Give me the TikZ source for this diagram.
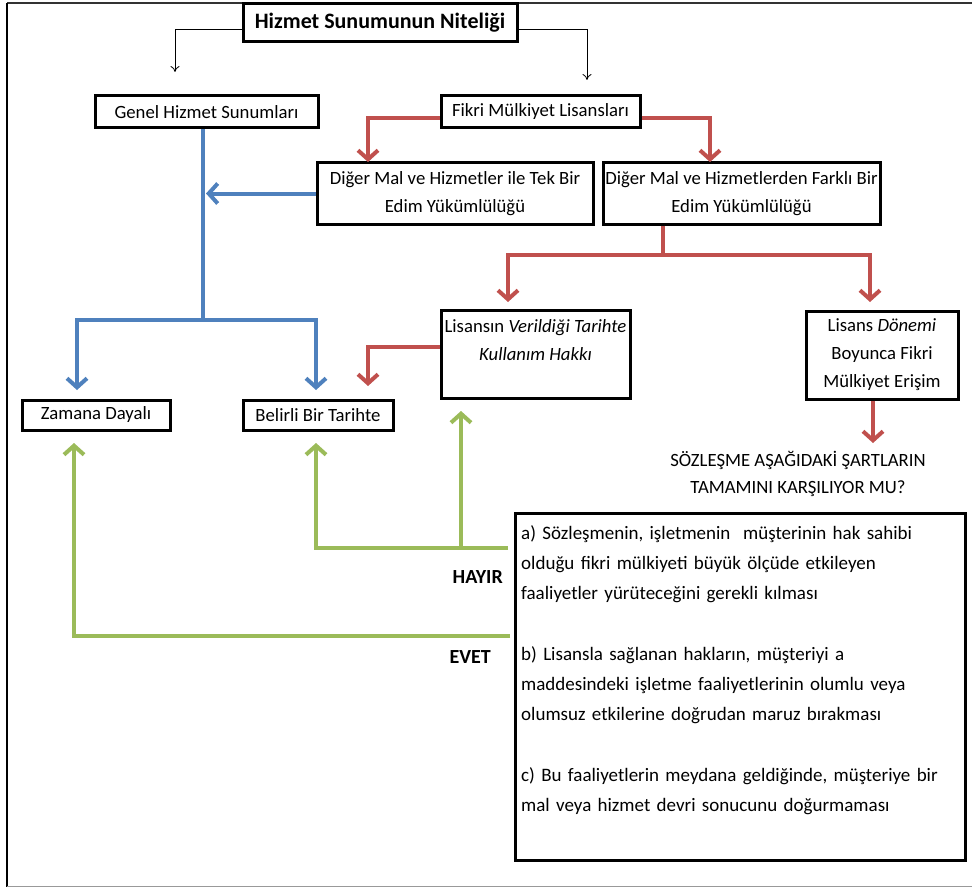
\documentclass[tikz,border=0pt]{standalone}
\usepackage{fontspec}
\setmainfont{Carlito}
\frenchspacing
\usetikzlibrary{arrows.meta}
\definecolor{oblue}{HTML}{4F81BD}
\definecolor{ored}{HTML}{C0504D}
\definecolor{ogreen}{HTML}{9BBB59}
\begin{document}
\begin{tikzpicture}[x=1pt,y=-1pt,
  box/.style={draw=black,line width=3pt,rectangle,inner sep=0pt,align=center,
     font=\fontsize{18.7}{28}\selectfont},
  thinarrow/.style={draw=black,line width=0.8pt,-{To[length=6pt,width=9pt]}},
  bar/.style={line width=4pt},
  barhead/.style={-{Straight Barb[length=9pt,width=20pt]}},
  bluel/.style={bar,draw=oblue},
  bluea/.style={bluel,barhead},
  redl/.style={bar,draw=ored},
  reda/.style={redl,barhead},
  greenl/.style={bar,draw=ogreen},
  greena/.style={greenl,barhead},
  lbl/.style={font=\fontsize{20}{24}\selectfont\bfseries,inner sep=0pt}
]
\useasboundingbox (0,0) rectangle (972,888);
% frame
\draw[line width=1.5pt,black!80] (7,3) -- (972,3);
\draw[line width=1.8pt,black] (7,3) -- (7,887);
\draw[line width=1.8pt,black!40] (7,886.5) -- (972,886.5);

% nodes
\node[box,minimum width=274pt,minimum height=38pt,font=\fontsize{22}{26}\selectfont\bfseries] (title) at (380,23) {Hizmet Sunumunun Niteliği};
\node[box,minimum width=223pt,minimum height=32pt] (genel) at (206.5,112) {Genel Hizmet Sunumları};
\node[box,minimum width=199pt,minimum height=32pt] (fikri) at (540.5,112) {Fikri Mülkiyet Lisansları};
\node[box,minimum width=276pt,minimum height=61pt] (tek) at (455,193.5) {Diğer Mal ve Hizmetler ile Tek Bir\\Edim Yükümlülüğü};
\node[box,minimum width=277pt,minimum height=61pt] (farkli) at (741.5,193.5) {Diğer Mal ve Hizmetlerden Farklı Bir\\Edim Yükümlülüğü};
\node[box,minimum width=189pt,minimum height=88pt] (verildigi) at (535.5,354) {Lisansın \textit{Verildiği Tarihte}\\\textit{Kullanım Hakkı}\\\mbox{}};
\node[box,minimum width=152pt,minimum height=88pt] (donemi) at (882,355) {Lisans \textit{Dönemi}\\Boyunca Fikri\\Mülkiyet Erişim};
\node[box,minimum width=148pt,minimum height=30pt] (zamana) at (96,415) {Zamana Dayalı};
\node[box,minimum width=150pt,minimum height=30pt] (belirli) at (318,415) {Belirli Bir Tarihte};
\node[align=center,inner sep=0pt,font=\fontsize{18.7}{27}\selectfont] (soru) at (798,474) {SÖZLEŞME AŞAĞIDAKİ ŞARTLARIN\\TAMAMINI KARŞILIYOR MU?};
\node[draw=black,line width=3pt,rectangle,minimum width=450pt,minimum height=347pt,inner sep=0pt] (sartlar) at (740,686.5) {};
\node[anchor=north west,inner sep=0pt,align=left,text width=440pt,font=\fontsize{19}{30.3}\selectfont] (metin) at (521,525)
 {a) Sözleşmenin, işletmenin\ \ müşterinin hak sahibi\\
  olduğu fikri mülkiyeti büyük ölçüde etkileyen\\
  faaliyetler yürüteceğini gerekli kılması\\[30.3pt]
  b) Lisansla sağlanan hakların, müşteriyi a\\
  maddesindeki işletme faaliyetlerinin olumlu veya\\
  olumsuz etkilerine doğrudan maruz bırakması\\[30.3pt]
  c) Bu faaliyetlerin meydana geldiğinde, müşteriye bir\\
  mal veya hizmet devri sonucunu doğurmaması};
\node[lbl,anchor=east] (hayir) at (503,577) {HAYIR};
\node[lbl,anchor=east] (evet) at (491,657) {EVET};

% coordinates
\coordinate (tl) at (175,72);
\coordinate (tr) at (587,80);
\coordinate (r1) at (368,162);
\coordinate (r2) at (710,162);
\coordinate (bj) at (203,320);
\coordinate (bz) at (77,390);
\coordinate (bb) at (316,390);
\coordinate (rj) at (663,255);
\coordinate (rv1) at (508,302);
\coordinate (rv2) at (870,302);
\coordinate (r3) at (368,386);
\coordinate (r4) at (873,443);
\coordinate (gh) at (508,548);
\coordinate (ghm) at (461,548);
\coordinate (gb) at (316,443);
\coordinate (gv) at (461,411);
\coordinate (ge) at (510,636);
\coordinate (gz) at (74,443);

% thin black connectors
\draw[thinarrow] ([yshift=-6pt]title.west) -| (tl);
\draw[thinarrow] ([yshift=-6pt]title.east) -| (tr);

% red connectors
\draw[reda] ([yshift=-6pt]fikri.west) -| (r1);
\draw[reda] ([yshift=-6pt]fikri.east) -| (r2);
\draw[redl] (farkli.south -| rj) -- (rj);
\draw[reda] (rj) -| (rv1);
\draw[reda] (rj) -| (rv2);
\draw[reda] ([yshift=7pt]verildigi.west) -| (r3);
\draw[reda] (donemi.south -| r4) -- (r4);

% blue connectors
\draw[bluel] (genel.south -| bj) -- (bj);
\draw[bluea] (bj) -| (bz);
\draw[bluea] (bj) -| (bb);
\draw[bluea] (tek.west) -- ([xshift=3pt]tek.west -| bj);

% green connectors
\draw[greena] (gh) -| (gb);
\draw[greena] (ghm) -- (gv);
\draw[greena] (ge) -| (gz);
\end{tikzpicture}
\end{document}
